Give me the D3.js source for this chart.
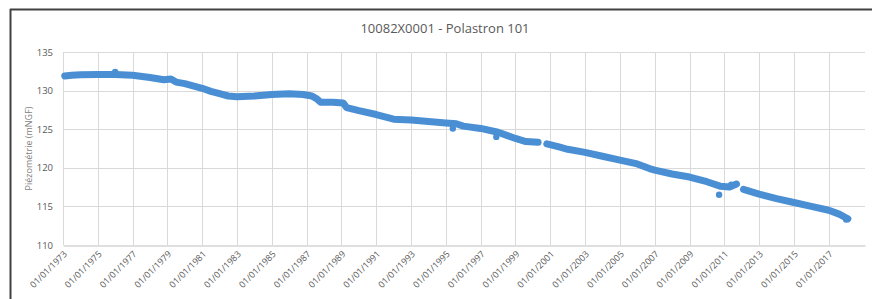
<!DOCTYPE html>
<html>
<head>
<meta charset="utf-8">
<script src="https://cdn.jsdelivr.net/npm/d3@7"></script>
<style>
  body { margin: 0; background: #fff; }
  text { font-family: "Open Sans", "Liberation Sans", sans-serif; }
</style>
</head>
<body>
<div id="chart"></div>
<script>
// levels, decimal years; null = gap in the record
const years = [1973.1, 1973.5, 1974, 1975, 1976, 1977, 1978, 1978.8, 1979.2, 1979.5, 1980, 1981, 1981.5, 1982, 1982.5,
  1983, 1984, 1985, 1986, 1986.8, 1987.3, 1987.6, 1987.8, 1988.5, 1989.1, 1989.3, 1990, 1991, 1992, 1993,
  1994, 1995, 1995.6, 1996, 1997, 1998, 1998.5, 1999, 1999.6, 2000.3, 2000.5, 2000.8, 2001.5, 2002, 2003, 2004,
  2005, 2006, 2006.7, 2007, 2008, 2009, 2010, 2010.8, 2011.3, 2011.7, 2011.85, 2012.1, 2013, 2014, 2015,
  2016, 2017, 2017.6, 2018.1];
const levels = [131.9, 132.0, 132.05, 132.1, 132.1, 132.0, 131.7, 131.4, 131.5, 131.1, 130.9, 130.3, 129.9, 129.6, 129.3,
  129.2, 129.3, 129.5, 129.6, 129.5, 129.3, 128.9, 128.5, 128.5, 128.4, 127.8, 127.4, 126.9, 126.3, 126.2,
  126.0, 125.8, 125.7, 125.4, 125.1, 124.6, 124.2, 123.8, 123.4, 123.3, null, 123.1, 122.7, 122.4, 122.0, 121.5,
  121.0, 120.5, 119.9, 119.7, 119.2, 118.8, 118.2, 117.6, 117.5, 117.9, null, 117.2, 116.6, 116.0, 115.5,
  115.0, 114.5, 114.0, 113.4];
// isolated low readings
const outlierYears = [1976.0, 1995.4, 1997.9, 2010.7, 2011.4, 2018.0];
const outlierLevels = [132.4, 125.1, 124.0, 116.5, 117.8, 113.3];

const yTicks = [110, 115, 120, 125, 130, 135];
const tickYears = d3.range(1973, 2019, 2);

const title = "10082X0001 - Polastron 101";
const yTitle = "Piézométrie (mNGF)";

const width = 872, height = 299;
const margin = {top: 52, right: 7, bottom: 54, left: 63};

const svg = d3.select("#chart").append("svg")
  .attr("width", width)
  .attr("height", height);

// chart frame (only top and left edges show in the crop)
svg.append("line").attr("x1", 10).attr("x2", width).attr("y1", 9.5).attr("y2", 9.5)
  .attr("stroke", "#404040").attr("stroke-width", 2);
svg.append("line").attr("x1", 10.5).attr("x2", 10.5).attr("y1", 9).attr("y2", height)
  .attr("stroke", "#404040").attr("stroke-width", 2);

const toDate = (y) => {
  const yr = Math.floor(y);
  const start = new Date(yr, 0, 1), end = new Date(yr + 1, 0, 1);
  return new Date(+start + (y - yr) * (end - start));
};

const x = d3.scaleTime()
  .domain([new Date(1973, 0, 1), new Date(2019, 1, 1)])
  .range([margin.left, width - margin.right]);
const y = d3.scaleLinear()
  .domain([110, 135])
  .range([height - margin.bottom, margin.top]);

// gridlines
svg.append("g")
  .selectAll("line")
  .data(yTicks.slice(1))
  .enter().append("line")
  .attr("x1", margin.left).attr("x2", width - margin.right)
  .attr("y1", (d) => Math.round(y(d)) + 0.5).attr("y2", (d) => Math.round(y(d)) + 0.5)
  .attr("stroke", "#d9d9d9");
svg.append("g")
  .selectAll("line")
  .data(tickYears)
  .enter().append("line")
  .attr("x1", (d) => Math.round(x(new Date(d, 0, 1))) + 0.5)
  .attr("x2", (d) => Math.round(x(new Date(d, 0, 1))) + 0.5)
  .attr("y1", margin.top).attr("y2", height - margin.bottom)
  .attr("stroke", "#d9d9d9");

// x axis
const xAxis = d3.axisBottom(x)
  .tickValues(tickYears.map((d) => new Date(d, 0, 1)))
  .tickFormat(d3.timeFormat("%d/%m/%Y"))
  .tickSize(0);
const gx = svg.append("g")
  .attr("transform", "translate(0," + (Math.round(y(110)) + 0.5) + ")")
  .call(xAxis);
gx.select(".domain").attr("stroke", "#bfbfbf");
gx.selectAll("text")
  .attr("fill", "#595959")
  .attr("font-size", 9)
  .attr("text-anchor", "end")
  .attr("dx", 0).attr("dy", 0)
  .attr("transform", "translate(2,7) rotate(-45)");

// y axis
const gy = svg.append("g")
  .attr("transform", "translate(" + (margin.left - 8) + ",0)")
  .call(d3.axisLeft(y).tickValues(yTicks).tickSize(0));
gy.select(".domain").remove();
gy.selectAll("text").attr("fill", "#595959").attr("font-size", 9.5).attr("x", -2);

// titles
svg.append("text")
  .attr("x", 445).attr("y", 33)
  .attr("text-anchor", "middle")
  .attr("font-size", 13)
  .attr("fill", "#595959")
  .text(title);
svg.append("text")
  .attr("transform", "translate(32," + ((y(110) + y(135)) / 2) + ") rotate(-90)")
  .attr("text-anchor", "middle")
  .attr("font-size", 9)
  .attr("fill", "#7f7f7f")
  .text(yTitle);

// series
const blue = "#4a8fd3";
const series = years.map((d, i) => ({date: toDate(d), v: levels[i]}));
const line = d3.line()
  .defined((d) => d.v !== null)
  .x((d) => x(d.date))
  .y((d) => y(d.v));
svg.append("path")
  .datum(series)
  .attr("fill", "none")
  .attr("stroke", blue)
  .attr("stroke-width", 7)
  .attr("stroke-linecap", "round")
  .attr("stroke-linejoin", "round")
  .attr("d", line);

svg.append("g")
  .selectAll("circle")
  .data(outlierYears.map((d, i) => ({date: toDate(d), v: outlierLevels[i]})))
  .enter().append("circle")
  .attr("cx", (d) => x(d.date))
  .attr("cy", (d) => y(d.v))
  .attr("r", 3.2)
  .attr("fill", blue);
</script>
</body>
</html>
